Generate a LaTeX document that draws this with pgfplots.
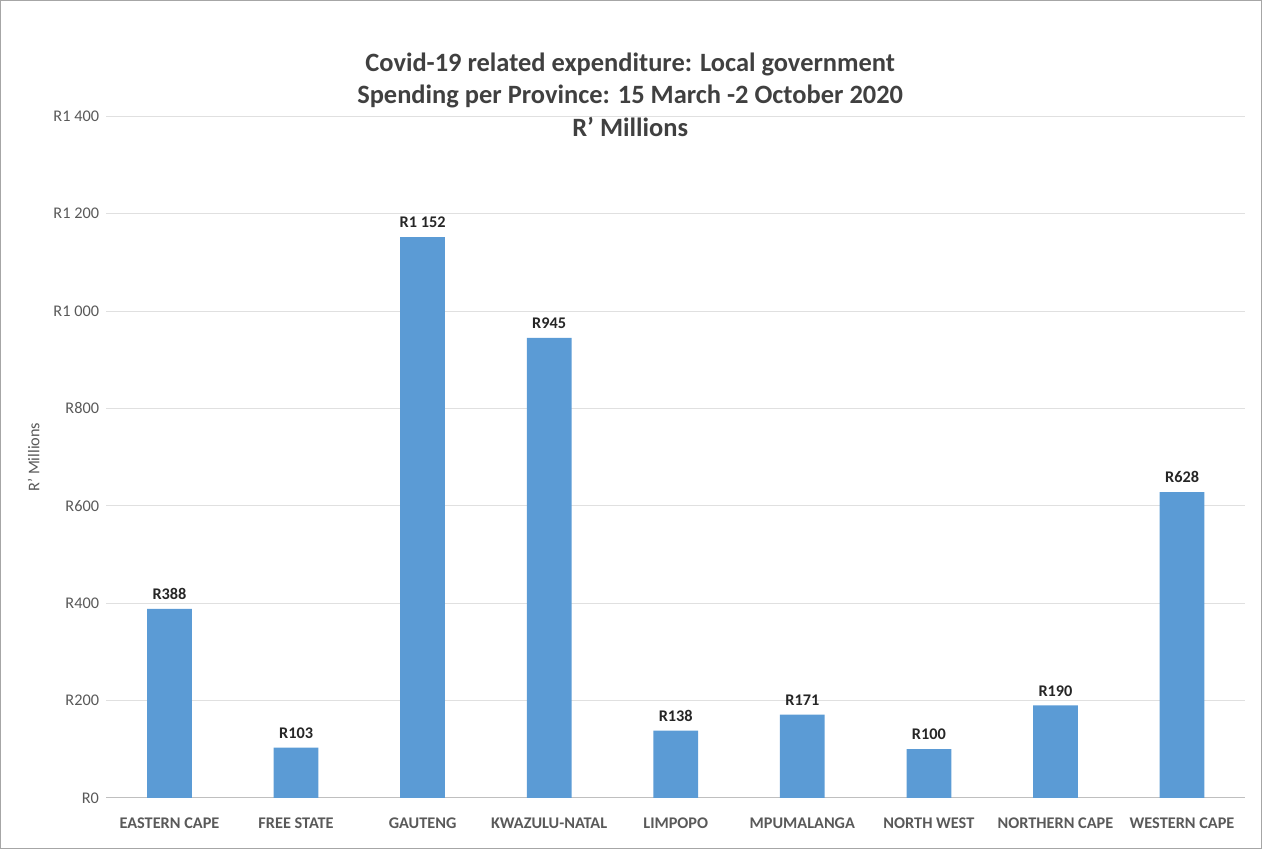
\documentclass[border=0pt]{standalone}
\usepackage{pgfplots}
\pgfplotsset{compat=1.18}
\usepackage{fontspec}
\setmainfont{Carlito}
\definecolor{barblue}{HTML}{5B9BD5}
\definecolor{tickgray}{HTML}{595959}
\definecolor{titlegray}{HTML}{404040}
\begin{document}
\begin{tikzpicture}
\begin{axis}[
  scale only axis,
  width=560pt, height=335pt,
  ybar, bar width=22pt,
  xmin=-0.5, xmax=8.5, ymin=0, ymax=1400,
  xtick=data,
  xticklabels={EASTERN CAPE,FREE STATE,GAUTENG,KWAZULU-NATAL,LIMPOPO,MPUMALANGA,NORTH WEST,NORTHERN CAPE,WESTERN CAPE},
  xticklabel style={font=\bfseries\fontsize{8}{9}\selectfont, text=tickgray, yshift=-2pt},
  ytick={0,200,400,600,800,1000,1200,1400},
  yticklabels={R0,R200,R400,R600,R800,R1 000,R1 200,R1 400},
  yticklabel style={font=\fontsize{8}{9}\selectfont, text=tickgray},
  ymajorgrids,
  grid style={draw=black!12},
  axis y line*=left,
  axis x line*=bottom,
  y axis line style={draw=none},
  x axis line style={draw=black!25},
  tick style={draw=none},
  ylabel={R' Millions},
  ylabel style={font=\fontsize{8}{9}\selectfont, text=tickgray},
  /pgf/number format/assume math mode=true,
  nodes near coords={\bfseries R\pgfmathprintnumber[1000 sep={\ }]{\pgfplotspointmeta}},
  nodes near coords style={font=\fontsize{8}{9}\selectfont, text=black!85, yshift=1pt},
  point meta=y,
  clip=false,
]
\addplot[fill=barblue, draw=none] coordinates {
  (0,388) (1,103) (2,1152) (3,945) (4,138) (5,171) (6,100) (7,190) (8,628)
};
\node[align=center, font=\bfseries\fontsize{13}{16}\selectfont, text=titlegray, anchor=south]
  at (rel axis cs:0.46,0.96) {Covid-19 related expenditure: Local government\\Spending per Province: 15 March -2 October 2020\\R' Millions};
\end{axis}
\draw[black!35] ([shift={(-52pt,-25pt)}]current axis.south west) rectangle ([shift={(8pt,57pt)}]current axis.north east);
\end{tikzpicture}
\end{document}
